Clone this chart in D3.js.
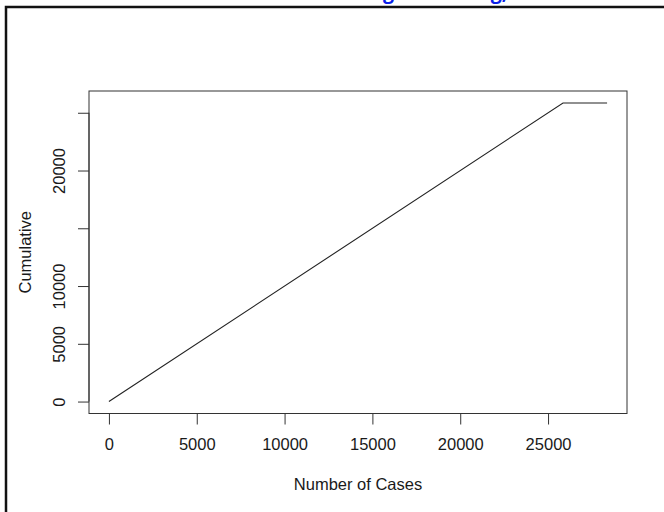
<!DOCTYPE html>
<html>
<head>
<meta charset="utf-8">
<script src="https://cdn.jsdelivr.net/npm/d3@7"></script>
<style>
  html, body { margin: 0; padding: 0; background: #fff; }
  svg { display: block; }
  text { font-family: "Liberation Sans", Arial, sans-serif; fill: #1a1a1a; }
</style>
</head>
<body>
<script>
// Cumulative total against case number
const caseNumbers = [0, 25850, 28360];
const cumulative  = [0, 25850, 25850];

const xTicks = [0, 5000, 10000, 15000, 20000, 25000];
const yTicks = [0, 5000, 10000, 15000, 20000, 25000];
const yTickLabels = ["0", "5000", "10000", "", "20000", ""];

const titleText = "Case Handling and Billing, Totals";
const xTitle = "Number of Cases";
const yTitle = "Cumulative";

const W = 664, H = 512;
const box = { left: 89, right: 627, top: 91, bottom: 413.5 };

const svg = d3.select("body").append("svg")
  .attr("width", W).attr("height", H);

// Outer frame (only left and top edges fall inside the page)
svg.append("rect")
  .attr("x", 6).attr("y", 7)
  .attr("width", 800).attr("height", 700)
  .attr("fill", "none")
  .attr("stroke", "#111")
  .attr("stroke-width", 2.5);

// Heading sits above the page edge; place its first "g" at x = 383
const title = svg.append("text")
  .attr("x", 0).attr("y", -1)
  .style("font-family", "'Open Sans', 'Liberation Sans', sans-serif")
  .style("font-weight", "bold")
  .style("font-size", "19.5px")
  .style("fill", "#0a1fe8")
  .text(titleText);
const gIdx = titleText.indexOf("g");
const gPos = title.node().getStartPositionOfChar(gIdx).x;
title.attr("x", 383 - gPos);

// R-style 4% padding around data range
function padded(vals) {
  const [lo, hi] = d3.extent(vals);
  const p = (hi - lo) * 0.04;
  return [lo - p, hi + p];
}

const x = d3.scaleLinear().domain(padded(caseNumbers)).range([box.left, box.right]);
const y = d3.scaleLinear().domain(padded(cumulative)).range([box.bottom, box.top]);

// Plot box
svg.append("rect")
  .attr("x", box.left).attr("y", box.top)
  .attr("width", box.right - box.left).attr("height", box.bottom - box.top)
  .attr("fill", "none").attr("stroke", "#333").attr("stroke-width", 1);

// Data line
const pts = caseNumbers.map((c, i) => [c, cumulative[i]]);
svg.append("path")
  .datum(pts)
  .attr("fill", "none")
  .attr("stroke", "#222")
  .attr("stroke-width", 1.1)
  .attr("d", d3.line().x(d => x(d[0])).y(d => y(d[1])));

// X axis
const xAxis = svg.append("g")
  .attr("transform", `translate(0,${box.bottom})`)
  .call(d3.axisBottom(x).tickValues(xTicks).tickSize(11).tickFormat(d3.format("d")));
xAxis.select(".domain")
  .attr("d", `M${x(xTicks[0])},0H${x(xTicks[xTicks.length - 1])}`)
  .attr("stroke", "#333");
xAxis.selectAll(".tick line").attr("stroke", "#333");
xAxis.selectAll(".tick text")
  .attr("y", 36).attr("dy", 0)
  .style("font-size", "16.5px")
  .style("font-family", "'Liberation Sans', Arial, sans-serif")
  .attr("fill", "#1a1a1a");

// Y axis
const yAxis = svg.append("g")
  .attr("transform", `translate(${box.left},0)`)
  .call(d3.axisLeft(y).tickValues(yTicks).tickSize(11)
    .tickFormat((d, i) => yTickLabels[i]));
yAxis.select(".domain")
  .attr("d", `M0,${y(yTicks[0])}V${y(yTicks[yTicks.length - 1])}`)
  .attr("stroke", "#333");
yAxis.selectAll(".tick line").attr("stroke", "#333");
yAxis.selectAll(".tick text")
  .attr("x", 0).attr("dy", 0)
  .attr("text-anchor", "middle")
  .attr("transform", "translate(-24,0) rotate(-90)")
  .style("font-size", "16.5px")
  .style("font-family", "'Liberation Sans', Arial, sans-serif")
  .attr("fill", "#1a1a1a");

// Axis titles
svg.append("text")
  .attr("x", (box.left + box.right) / 2).attr("y", 490)
  .attr("text-anchor", "middle")
  .style("font-size", "16.5px")
  .text(xTitle);

svg.append("text")
  .attr("transform", `translate(30.5,${(box.top + box.bottom) / 2}) rotate(-90)`)
  .attr("text-anchor", "middle")
  .style("font-size", "16.5px")
  .text(yTitle);
</script>
</body>
</html>
